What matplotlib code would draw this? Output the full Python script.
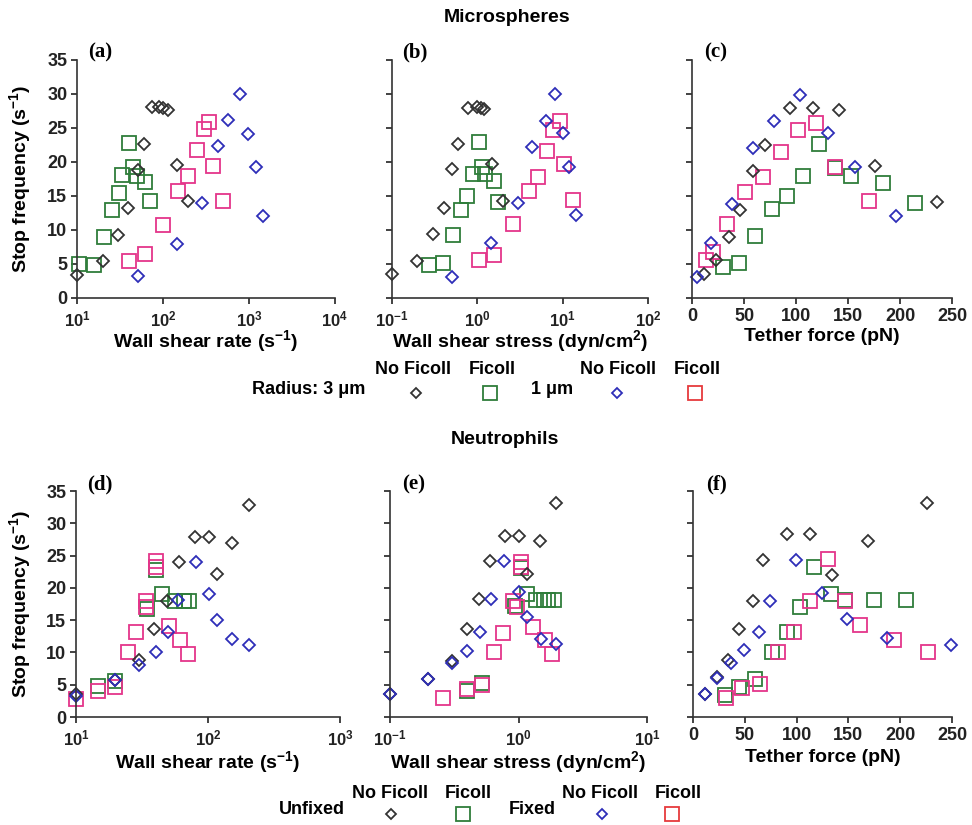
import math

import matplotlib
matplotlib.use("Agg")
import matplotlib.pyplot as plt
from matplotlib.ticker import FixedLocator, FuncFormatter, NullLocator

plt.rcParams["font.family"] = ["Liberation Sans", "DejaVu Sans"]
plt.rcParams["font.weight"] = "bold"
plt.rcParams["mathtext.fontset"] = "custom"
plt.rcParams["mathtext.rm"] = "Liberation Sans:bold"
plt.rcParams["mathtext.bf"] = "Liberation Sans:bold"
plt.rcParams["mathtext.it"] = "Liberation Sans:bold"

# ---- Microspheres: (a) wall shear rate, (b) wall shear stress, (c) tether force
a_black_x = [10, 20.1, 30, 39.6, 50.7, 59.8, 75, 90, 100, 115, 147, 194]
a_black_y = [3.4, 5.5, 9.3, 13.2, 18.8, 22.7, 28.1, 28.1, 27.9, 27.7, 19.6, 14.2]
a_green_x = [10.5, 15.6, 20.6, 25.6, 30.5, 33.3, 40.7, 45.2, 49.3, 61.3, 70]
a_green_y = [5.0, 4.8, 9.0, 13.0, 15.4, 18.1, 22.8, 19.3, 18.0, 17.0, 14.2]
a_pink_x = [40.4, 61.3, 101, 149, 196, 248, 300, 342, 383, 498]
a_pink_y = [5.5, 6.4, 10.7, 15.7, 18.0, 21.8, 24.8, 25.9, 19.4, 14.3]
a_blue_x = [50.7, 147, 287, 436, 577, 783, 975, 1191, 1443]
a_blue_y = [3.3, 8.0, 14.0, 22.3, 26.2, 30.0, 24.1, 19.2, 12.1]

b_black_x = [0.10, 0.196, 0.301, 0.409, 0.501, 0.594, 0.771, 0.98, 1.09, 1.20, 1.48, 1.98]
b_black_y = [3.6, 5.5, 9.4, 13.3, 19.0, 22.7, 28.0, 28.1, 28.0, 27.8, 19.7, 14.2]
b_green_x = [0.268, 0.394, 0.515, 0.638, 0.764, 0.897, 1.045, 1.12, 1.23, 1.57, 1.76]
b_green_y = [4.8, 5.1, 9.3, 13.0, 15.0, 18.2, 22.9, 19.3, 18.3, 17.2, 14.1]
b_pink_x = [1.05, 1.57, 2.63, 4.01, 5.15, 6.56, 7.71, 9.22, 10.5, 13.2]
b_pink_y = [5.6, 6.3, 10.9, 15.7, 17.8, 21.6, 24.7, 26.0, 19.7, 14.4]
b_blue_x = [0.50, 1.46, 3.01, 4.39, 6.34, 8.07, 10.1, 11.9, 14.5]
b_blue_y = [3.1, 8.1, 13.9, 22.2, 26.1, 30.0, 24.2, 19.2, 12.2]

c_black_x = [11.6, 22.8, 35.7, 46.6, 58.2, 70.1, 94.2, 116, 141, 176, 235.5]
c_black_y = [3.6, 5.6, 9.0, 12.9, 18.7, 22.5, 27.9, 28.0, 27.6, 19.4, 14.1]
c_green_x = [29.9, 45, 60.4, 76.5, 91.6, 107, 122.4, 137.5, 152.6, 184, 214.6]
c_green_y = [4.6, 5.1, 9.1, 13.1, 15.0, 18.0, 22.7, 19.1, 17.9, 16.9, 14.0]
c_pink_x = [13.8, 20.2, 33.7, 50.8, 67.8, 85.2, 102.2, 119.2, 137.5, 170.6]
c_pink_y = [5.6, 6.7, 10.9, 15.6, 17.8, 21.5, 24.7, 25.8, 19.2, 14.3]
c_blue_x = [4.8, 18.6, 38.6, 58.2, 78.7, 103.8, 131.1, 156.8, 196.3]
c_blue_y = [3.1, 8.1, 13.8, 22.1, 26.1, 29.8, 24.3, 19.2, 12.0]

# ---- Neutrophils: (d) wall shear rate, (e) wall shear stress, (f) tether force
d_black_x = [10, 19.6, 29.9, 39.3, 48.7, 60.6, 79.4, 101, 117.5, 152, 203]
d_black_y = [3.5, 5.8, 8.8, 13.7, 18.0, 24.0, 27.9, 27.9, 22.1, 27.0, 32.9]
d_green_x = [14.8, 19.7, 34.5, 40.6, 45.2, 56, 66, 72]
d_green_y = [4.8, 5.6, 16.7, 22.8, 19.0, 18.0, 18.0, 18.0]
d_pink_x = [10, 14.8, 19.7, 24.8, 28.5, 33.7, 33.7, 40.6, 40.6, 50.7, 61.3, 70.8]
d_pink_y = [2.8, 4.0, 4.6, 10.0, 13.2, 18.0, 17.0, 24.1, 23.2, 14.1, 12.0, 9.8]
d_blue_x = [10, 19.6, 29.9, 40.3, 50.1, 59.6, 81.8, 101, 117.5, 152, 203]
d_blue_y = [3.3, 5.7, 8.1, 10.0, 13.1, 18.1, 24.0, 19.0, 15.0, 12.1, 11.1]

e_black_x = [0.10, 0.199, 0.303, 0.40, 0.497, 0.601, 0.787, 1.0, 1.17, 1.47, 1.97]
e_black_y = [3.5, 5.9, 8.7, 13.6, 18.3, 24.1, 28.1, 28.1, 22.1, 27.2, 33.1]
e_green_x = [0.40, 0.52, 0.94, 1.05, 1.17, 1.38, 1.57, 1.71, 1.90]
e_green_y = [4.1, 5.3, 17.2, 23.0, 19.1, 18.1, 18.1, 18.1, 18.1]
e_pink_x = [0.259, 0.40, 0.52, 0.646, 0.763, 0.91, 0.98, 1.04, 1.04, 1.29, 1.62, 1.81]
e_pink_y = [2.9, 4.3, 5.0, 10.0, 13.0, 18.0, 17.0, 24.0, 23.2, 14.0, 12.0, 9.7]
e_blue_x = [0.10, 0.199, 0.303, 0.396, 0.50, 0.61, 0.77, 1.0, 1.17, 1.49, 1.97]
e_blue_y = [3.5, 5.9, 8.4, 10.2, 13.1, 18.3, 24.1, 19.3, 15.5, 12.1, 11.3]

f_black_x = [12.0, 22.7, 34.0, 44.4, 57.6, 68.0, 90.7, 112.7, 134.4, 169, 226]
f_black_y = [3.6, 6.2, 8.9, 13.7, 18.0, 24.3, 28.3, 28.3, 22.0, 27.2, 33.2]
f_green_x = [30.8, 44.7, 59.9, 76.4, 90.5, 103.6, 117.2, 132.8, 146.4, 174.9, 205.6]
f_green_y = [3.4, 4.7, 5.9, 10.1, 13.2, 17.1, 23.2, 19.1, 18.1, 18.1, 18.1]
f_pink_x = [31.7, 47.3, 64.8, 82.5, 97.2, 113.3, 130.2, 146.4, 161.3, 193.7, 226.7]
f_pink_y = [3.0, 4.5, 5.1, 10.1, 13.1, 18.0, 24.4, 18.0, 14.2, 11.9, 10.1]
f_blue_x = [12.0, 23.3, 36.3, 49.5, 63.8, 74.5, 99.7, 124.7, 149, 187, 249]
f_blue_y = [3.6, 6.1, 8.4, 10.3, 13.1, 18.0, 24.3, 19.2, 15.1, 12.2, 11.1]

y_ticks = [0, 5, 10, 15, 20, 25, 30, 35]
force_ticks = [0, 50, 100, 150, 200, 250]
legend_cols = ["No Ficoll", "Ficoll", "No Ficoll", "Ficoll"]

BLACK = "#333333"
GREEN = "#2f7d3a"
BLUE = "#2e2eb8"
PINK = "#e4358a"
RED = "#e63a3d"

W, H = 972, 825
fig = plt.figure(figsize=(W / 100, H / 100), dpi=100)


def px_axes(left, top, right, bottom):
    return fig.add_axes([left / W, 1 - bottom / H, (right - left) / W, (bottom - top) / H])


def pow_fmt(v, pos):
    return r"$\mathbf{10^{%d}}$" % int(round(math.log10(v)))


def style(ax, letter, xlabel, log_range=None, left_labels=True, top_row=True):
    for side in ["top", "right"]:
        ax.spines[side].set_visible(False)
    for side in ["left", "bottom"]:
        ax.spines[side].set_linewidth(1.2)
        ax.spines[side].set_color("#333333")
    ax.set_ylim(0, 35)
    ax.yaxis.set_major_locator(FixedLocator(y_ticks))
    ax.tick_params(direction="out", length=4, width=1.2, pad=3, labelsize=13, colors="#222222")
    if log_range:
        lo, hi = log_range
        ax.set_xscale("log")
        ax.set_xlim(10.0 ** lo, 10.0 ** hi)
        ax.xaxis.set_major_locator(FixedLocator([10.0 ** k for k in range(lo, hi + 1)]))
        ax.xaxis.set_major_formatter(FuncFormatter(pow_fmt))
        ax.xaxis.set_minor_locator(NullLocator())
        ax.tick_params(axis="x", labelsize=12, pad=4)
    else:
        ax.set_xlim(0, 250)
        ax.xaxis.set_major_locator(FixedLocator(force_ticks))
    ax.tick_params(axis="y", labelleft=left_labels)
    ax.set_xlabel(xlabel, fontsize=14, fontweight="bold")
    ax.xaxis.set_label_coords(0.5, -0.125 if top_row else -0.14)
    if left_labels:
        ax.set_ylabel(r"Stop frequency (s$^{\mathbf{-1}}$)", fontsize=14, fontweight="bold")
        ax.yaxis.set_label_coords(-0.17 if top_row else -0.163, 0.5)
    ax.text(0.09, 1.03, "(%s)" % letter, transform=ax.transAxes, ha="center", va="center",
            fontsize=15, fontweight="bold", family="Liberation Serif")


def scatter(ax, green, pink, black, blue, sq, dm):
    ax.plot(green[0], green[1], "s", ms=sq, mfc="none", mec=GREEN, mew=1.3, ls="none", clip_on=False)
    ax.plot(pink[0], pink[1], "s", ms=sq, mfc="none", mec=PINK, mew=1.3, ls="none", clip_on=False)
    ax.plot(black[0], black[1], "D", ms=dm, mfc="none", mec=BLACK, mew=1.3, ls="none", clip_on=False)
    ax.plot(blue[0], blue[1], "D", ms=dm, mfc="none", mec=BLUE, mew=1.3, ls="none", clip_on=False)


rate_label = r"Wall shear rate (s$^{\mathbf{-1}}$)"
stress_label = r"Wall shear stress (dyn/cm$^{\mathbf{2}}$)"
force_label = "Tether force (pN)"

ax_a = px_axes(77, 60, 335, 298)
ax_b = px_axes(392, 60, 648, 298)
ax_c = px_axes(692, 60, 952, 298)
ax_d = px_axes(76, 491, 340, 717)
ax_e = px_axes(390, 491, 647, 717)
ax_f = px_axes(693, 491, 952, 717)

scatter(ax_a, (a_green_x, a_green_y), (a_pink_x, a_pink_y), (a_black_x, a_black_y), (a_blue_x, a_blue_y), 10.5, 6)
scatter(ax_b, (b_green_x, b_green_y), (b_pink_x, b_pink_y), (b_black_x, b_black_y), (b_blue_x, b_blue_y), 10.5, 6)
scatter(ax_c, (c_green_x, c_green_y), (c_pink_x, c_pink_y), (c_black_x, c_black_y), (c_blue_x, c_blue_y), 10.5, 6)
scatter(ax_d, (d_green_x, d_green_y), (d_pink_x, d_pink_y), (d_black_x, d_black_y), (d_blue_x, d_blue_y), 9.5, 5.7)
scatter(ax_e, (e_green_x, e_green_y), (e_pink_x, e_pink_y), (e_black_x, e_black_y), (e_blue_x, e_blue_y), 9.5, 5.7)
scatter(ax_f, (f_green_x, f_green_y), (f_pink_x, f_pink_y), (f_black_x, f_black_y), (f_blue_x, f_blue_y), 9.5, 5.7)

style(ax_a, "a", rate_label, (1, 4))
style(ax_b, "b", stress_label, (-1, 2), left_labels=False)
style(ax_c, "c", force_label, None, left_labels=False)
style(ax_d, "d", rate_label, (1, 3), top_row=False)
style(ax_e, "e", stress_label, (-1, 1), left_labels=False, top_row=False)
style(ax_f, "f", force_label, None, left_labels=False, top_row=False)

# overlay in pixel coordinates for titles and the two legends
ov = fig.add_axes([0, 0, 1, 1])
ov.set_xlim(0, W)
ov.set_ylim(H, 0)
ov.axis("off")

ov.text(507, 18, "Microspheres", ha="center", va="center", fontsize=14, fontweight="bold")
ov.text(505, 440, "Neutrophils", ha="center", va="center", fontsize=14, fontweight="bold")


def legend_row(group_a, group_b, a_x, b_x, col_x, mark_x, head_y, mark_y):
    ov.text(a_x, mark_y - 4, group_a, ha="right", va="center", fontsize=13, fontweight="bold")
    ov.text(b_x, mark_y - 4, group_b, ha="center", va="center", fontsize=13, fontweight="bold")
    for lab, x in zip(legend_cols, col_x):
        ov.text(x, head_y, lab, ha="center", va="center", fontsize=13, fontweight="bold")
    ov.plot([mark_x[0]], [mark_y], "D", ms=5, mfc="none", mec=BLACK, mew=1.3)
    ov.plot([mark_x[1]], [mark_y], "s", ms=9.5, mfc="none", mec=GREEN, mew=1.3)
    ov.plot([mark_x[2]], [mark_y], "D", ms=5, mfc="none", mec=BLUE, mew=1.3)
    ov.plot([mark_x[3]], [mark_y], "s", ms=9.5, mfc="none", mec=RED, mew=1.3)


legend_row("Radius: 3 \u03bcm", "1 \u03bcm", 365, 552, [413, 492, 618, 697], [416, 490, 617, 695], 369, 393)
legend_row("Unfixed", "Fixed", 345, 532, [390, 468, 600, 678], [391, 463, 602, 672], 793, 814)

fig.savefig("out.png", dpi=100)
